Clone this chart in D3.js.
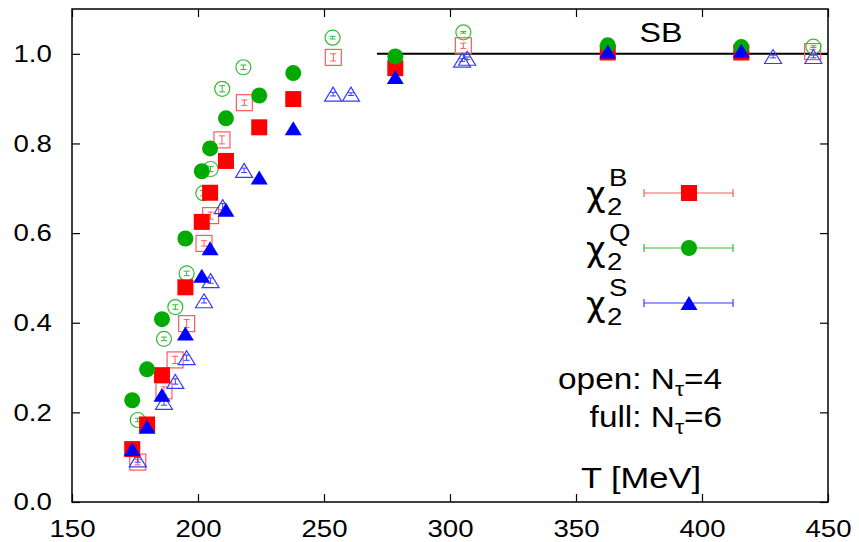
<!DOCTYPE html>
<html>
<head>
<meta charset="utf-8">
<script src="https://cdn.jsdelivr.net/npm/d3@7"></script>
<style>
  body { margin: 0; background: #fff; }
  text { font-family: "Liberation Sans", Arial, sans-serif; fill: #000; }
</style>
</head>
<body>
<div id="chart"></div>
<script>
// full symbols: N_tau = 6
const fullT = [173.9, 179.8, 185.7, 195.0, 201.5, 204.8, 211.1, 224.3, 237.8, 278.3, 362.6, 415.6];
const fullB = [0.118, 0.173, 0.283, 0.479, 0.625, 0.690, 0.761, 0.836, 0.899, 0.968, 1.003, 1.003];
const fullQ = [0.227, 0.296, 0.408, 0.588, 0.738, 0.789, 0.856, 0.907, 0.957, 0.994, 1.019, 1.015];
const fullS = [0.118, 0.168, 0.239, 0.376, 0.505, 0.566, 0.652, 0.724, 0.834, 0.948, 1.005, 1.007];

// open symbols: N_tau = 4
const openBT = [176.1, 186.5, 190.9, 195.5, 202.4, 205.0, 209.5, 218.4, 253.7, 305.3, 443.9];
const openB  = [0.089, 0.248, 0.317, 0.398, 0.577, 0.639, 0.808, 0.891, 0.992, 1.018, 1.005];
const openBerr = [0.006, 0.009, 0.008, 0.009, 0.006, 0.008, 0.009, 0.006, 0.008, 0.006, 0.005];
const openQT = [176.1, 186.5, 191.0, 195.5, 202.1, 205.0, 209.6, 218.0, 253.4, 305.3, 444.2];
const openQ  = [0.183, 0.364, 0.435, 0.510, 0.689, 0.743, 0.922, 0.970, 1.036, 1.048, 1.016];
const openQerr = [0.004, 0.004, 0.005, 0.005, 0.006, 0.006, 0.007, 0.005, 0.003, 0.002, 0.002];
const openST = [176.1, 186.5, 191.0, 195.5, 202.4, 205.0, 209.8, 218.3, 253.6, 260.7, 304.8, 306.8, 428.2, 444.2];
const openS  = [0.094, 0.222, 0.269, 0.322, 0.449, 0.494, 0.659, 0.740, 0.910, 0.910, 0.986, 0.990, 0.994, 0.994];
const openSerr = [0.005, 0.006, 0.006, 0.006, 0.005, 0.006, 0.007, 0.005, 0.004, 0.003, 0.003, 0.003, 0.003, 0.003];

const xTicks = [150, 200, 250, 300, 350, 400, 450];
const yTicks = [0.0, 0.2, 0.4, 0.6, 0.8, 1.0];
const sbRange = [271, 450];
const sbValue = 1.0;

const width = 859, height = 542;
const margin = {top: 9, right: 31, bottom: 40, left: 72};
const stretch = 1.15; // text in the picture is a bit wider than plain Helvetica

const svg = d3.select("#chart").append("svg")
  .attr("width", width)
  .attr("height", height);

const x = d3.scaleLinear().domain([150, 450]).range([margin.left, width - margin.right]);
const y = d3.scaleLinear().domain([0, 1.1]).range([height - margin.bottom, margin.top]);

const x0 = x.range()[0], x1 = x.range()[1];
const y0 = y.range()[0], y1 = y.range()[1];

// axes, ticks pointing inward
const xAxis = svg.append("g").attr("transform", `translate(0,${y0})`)
  .call(d3.axisBottom(x).tickValues(xTicks).tickSizeInner(-8).tickSizeOuter(0).tickPadding(17.5).tickFormat(d3.format("d")));
const yAxis = svg.append("g").attr("transform", `translate(${x0},0)`)
  .call(d3.axisLeft(y).tickValues(yTicks).tickSizeInner(-8).tickSizeOuter(0).tickPadding(17.5).tickFormat(d3.format(".1f")));
svg.append("g").attr("transform", `translate(0,${y1})`)
  .call(d3.axisTop(x).tickValues(xTicks).tickSizeInner(-8).tickSizeOuter(0).tickFormat(""));
svg.append("g").attr("transform", `translate(${x1},0)`)
  .call(d3.axisRight(y).tickValues(yTicks).tickSizeInner(-8).tickSizeOuter(0).tickFormat(""));

svg.selectAll(".domain").remove();
svg.selectAll(".tick line").attr("stroke", "#000").attr("stroke-width", 1.2);
[xAxis, yAxis].forEach(a => a.selectAll("text")
  .style("font-size", "24px")
  .style("font-family", "Liberation Sans, Arial, sans-serif")
  .attr("fill", "#000")
  .attr("transform", `scale(${stretch},1)`));

svg.append("rect")
  .attr("x", x0).attr("y", y1)
  .attr("width", x1 - x0).attr("height", y0 - y1)
  .attr("fill", "none").attr("stroke", "#000").attr("stroke-width", 1.5);

// Stefan-Boltzmann limit
svg.append("line")
  .attr("x1", x(sbRange[0])).attr("x2", x(sbRange[1]))
  .attr("y1", y(sbValue)).attr("y2", y(sbValue))
  .attr("stroke", "#000").attr("stroke-width", 2);

// marker shapes
const tri = (cx, cy, s) => `M${cx},${cy - s * 0.82}L${cx + s},${cy + s * 0.82}L${cx - s},${cy + s * 0.82}Z`;

function drawOpen(T, v, err, color, shape) {
  const g = svg.append("g");
  const pts = T.map((t, i) => ({t, v: v[i], e: err[i]}));
  if (shape === "square") {
    g.selectAll("rect").data(pts).join("rect")
      .attr("x", d => x(d.t) - 8).attr("y", d => y(d.v) - 8)
      .attr("width", 16).attr("height", 16)
      .attr("fill", "none").attr("stroke", color).attr("stroke-width", 1.2);
  } else if (shape === "circle") {
    g.selectAll("circle").data(pts).join("circle")
      .attr("cx", d => x(d.t)).attr("cy", d => y(d.v)).attr("r", 7.5)
      .attr("fill", "none").attr("stroke", color).attr("stroke-width", 1.2);
  } else {
    g.selectAll("path").data(pts).join("path")
      .attr("d", d => tri(x(d.t), y(d.v), 8.5))
      .attr("fill", "none").attr("stroke", color).attr("stroke-width", 1.2);
  }
  // error bars
  const eb = g.selectAll("g.eb").data(pts).join("g").attr("class", "eb");
  eb.append("line")
    .attr("x1", d => x(d.t)).attr("x2", d => x(d.t))
    .attr("y1", d => y(d.v - d.e)).attr("y2", d => y(d.v + d.e));
  eb.append("line")
    .attr("x1", d => x(d.t) - 3).attr("x2", d => x(d.t) + 3)
    .attr("y1", d => y(d.v - d.e)).attr("y2", d => y(d.v - d.e));
  eb.append("line")
    .attr("x1", d => x(d.t) - 3).attr("x2", d => x(d.t) + 3)
    .attr("y1", d => y(d.v + d.e)).attr("y2", d => y(d.v + d.e));
  eb.selectAll("line").attr("stroke", color).attr("stroke-width", 1);
}

function drawFull(T, v, color, shape) {
  const pts = T.map((t, i) => ({t, v: v[i]}));
  const g = svg.append("g");
  if (shape === "square") {
    g.selectAll("rect").data(pts).join("rect")
      .attr("x", d => x(d.t) - 8).attr("y", d => y(d.v) - 8)
      .attr("width", 16).attr("height", 16).attr("fill", color);
  } else if (shape === "circle") {
    g.selectAll("circle").data(pts).join("circle")
      .attr("cx", d => x(d.t)).attr("cy", d => y(d.v)).attr("r", 8).attr("fill", color);
  } else {
    g.selectAll("path").data(pts).join("path")
      .attr("d", d => tri(x(d.t), y(d.v), 8.5)).attr("fill", color);
  }
}

const red = "#ff0000", green = "#00aa00", blue = "#0000ff";
const redL = "#ff5a5a", greenL = "#33bb33", blueL = "#3a3aff";

drawOpen(openBT, openB, openBerr, redL, "square");
drawOpen(openQT, openQ, openQerr, greenL, "circle");
drawOpen(openST, openS, openSerr, blueL, "triangle");
drawFull(fullT, fullB, red, "square");
drawFull(fullT, fullQ, green, "circle");
drawFull(fullT, fullS, blue, "triangle");

// text helper with horizontal stretch
function label(px, py, size, anchor) {
  return svg.append("text")
    .attr("transform", `translate(${px},${py}) scale(${stretch},1)`)
    .attr("text-anchor", anchor)
    .style("font-size", size + "px");
}

label(661, 42, 28, "middle").text("SB");

// legend
const legend = [
  {sup: "B", color: red, line: redL, shape: "square"},
  {sup: "Q", color: green, line: greenL, shape: "circle"},
  {sup: "S", color: blue, line: blueL, shape: "triangle"}
];
legend.forEach((d, i) => {
  const cy = 193 + i * 55;
  svg.append("text")
    .attr("x", 586).attr("y", cy + 13)
    .style("font-family", "DejaVu Sans, sans-serif")
    .style("font-size", "34px")
    .text("χ");
  label(607, cy + 22, 24, "start").text("2");
  label(609, cy - 7, 24, "start").text(d.sup);
  const lx0 = 644, lx1 = 733, mx = 689;
  svg.append("line").attr("x1", lx0).attr("x2", lx1).attr("y1", cy).attr("y2", cy)
    .attr("stroke", d.line).attr("stroke-width", 1.2);
  [lx0, lx1].forEach(cx => svg.append("line").attr("x1", cx).attr("x2", cx)
    .attr("y1", cy - 4).attr("y2", cy + 4).attr("stroke", d.line).attr("stroke-width", 1.2));
  if (d.shape === "square") {
    svg.append("rect").attr("x", mx - 8).attr("y", cy - 8).attr("width", 16).attr("height", 16).attr("fill", d.color);
  } else if (d.shape === "circle") {
    svg.append("circle").attr("cx", mx).attr("cy", cy).attr("r", 8).attr("fill", d.color);
  } else {
    svg.append("path").attr("d", tri(mx, cy, 8.5)).attr("fill", d.color);
  }
});

// N_tau notes
const t1 = label(722, 389, 29, "end");
t1.append("tspan").text("open: N");
t1.append("tspan").attr("dy", 7).style("font-size", "20px").text("τ");
t1.append("tspan").attr("dy", -7).text("=4");
const t2 = label(722, 427, 29, "end");
t2.append("tspan").text("full: N");
t2.append("tspan").attr("dy", 7).style("font-size", "20px").text("τ");
t2.append("tspan").attr("dy", -7).text("=6");

label(641, 488, 30, "middle").text("T [MeV]");
</script>
</body>
</html>
